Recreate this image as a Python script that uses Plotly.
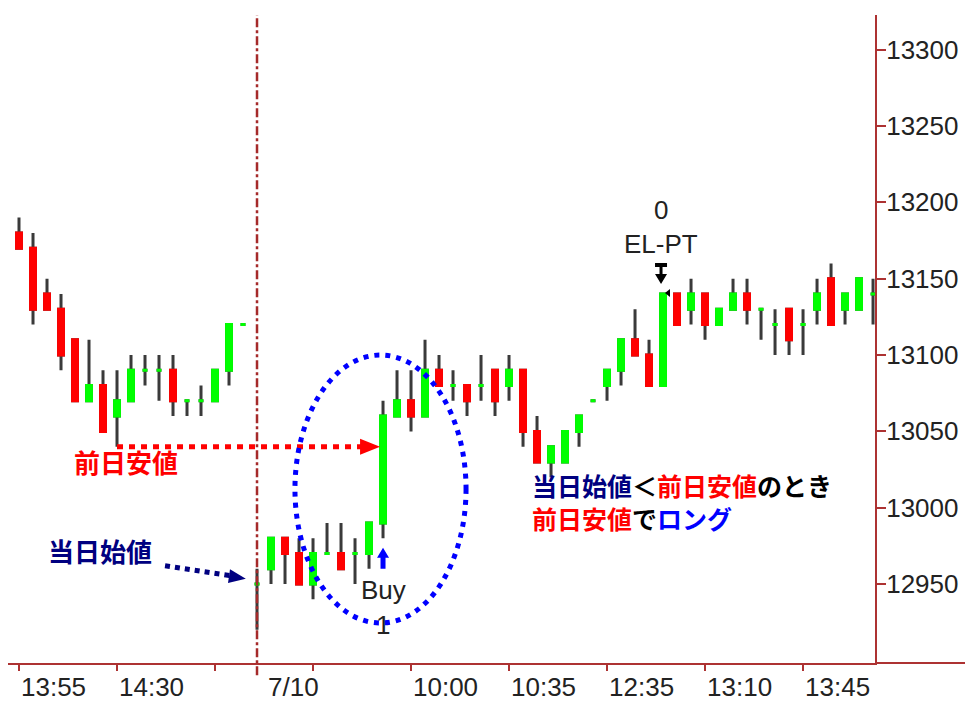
import plotly.graph_objects as go

# 5-minute bars: afternoon of the previous day, then 7/10
bar_index = list(range(63))
opens = [13170, 13180, 13170, 13140, 13130, 13110, 13070, 13080, 13060, 13070,
         13090, 13090, 13090, 13070, 13070, 13070, 13090, 13120,
         12950, 12960, 12980, 12970, 12950, 12970, 12970, 12970, 12970, 12990,
         13060, 13070, 13060, 13090, 13080, 13080, 13080, 13090, 13080, 13090,
         13050, 13030, 13030, 13050, 13070, 13080, 13090, 13110, 13100, 13080,
         13140, 13130, 13140, 13120, 13130, 13140, 13130, 13120, 13130, 13120,
         13130, 13150, 13130, 13130, 13140]
highs = [13170, 13190, 13180, 13150, 13140, 13110, 13110, 13090, 13090, 13100,
         13100, 13100, 13100, 13070, 13080, 13090, 13120, 13120,
         12960, 12980, 12980, 12980, 12980, 12990, 12990, 12980, 12990, 13070,
         13090, 13090, 13110, 13100, 13090, 13080, 13100, 13090, 13100, 13090,
         13060, 13040, 13050, 13060, 13070, 13090, 13110, 13130, 13110, 13140,
         13140, 13150, 13140, 13130, 13150, 13150, 13130, 13130, 13130, 13130,
         13150, 13160, 13140, 13150, 13150]
lows = [13170, 13170, 13120, 13130, 13090, 13070, 13070, 13050, 13040, 13070,
        13080, 13070, 13060, 13060, 13060, 13070, 13080, 13120,
        12920, 12950, 12950, 12950, 12940, 12970, 12960, 12950, 12960, 12980,
        13060, 13050, 13060, 13080, 13070, 13060, 13070, 13060, 13070, 13040,
        13030, 13020, 13030, 13040, 13070, 13070, 13080, 13100, 13080, 13080,
        13120, 13120, 13110, 13120, 13130, 13120, 13110, 13100, 13100, 13100,
        13120, 13120, 13120, 13130, 13120]
closes = [13170, 13170, 13130, 13130, 13100, 13070, 13080, 13050, 13070, 13090,
          13090, 13090, 13070, 13070, 13070, 13090, 13120, 13120,
          12950, 12980, 12970, 12950, 12970, 12970, 12960, 12970, 12990, 13060,
          13070, 13060, 13090, 13080, 13080, 13070, 13080, 13070, 13090, 13050,
          13030, 13040, 13050, 13060, 13070, 13090, 13110, 13100, 13080, 13140,
          13120, 13140, 13120, 13130, 13140, 13130, 13130, 13120, 13110, 13120,
          13140, 13120, 13140, 13150, 13140]

tick_index = [1, 8, 15, 22, 29, 36, 43, 50, 57]
tick_text = ["13:55", "14:30", "", "", "10:00", "10:35", "12:35", "13:10", "13:45"]
price_ticks = [12950, 13000, 13050, 13100, 13150, 13200, 13250, 13300]

day_break = 18        # first bar of 7/10
prev_day_low = 13040  # 前日安値
entry_bar = 27
exit_bar = 47

GREEN = "#00ff00"
RED = "#ff0000"
WICK = "#3a3a3a"
AXIS = "#ad3232"
TXT = "#222222"
TICK_FONT = dict(family="Liberation Sans, Arial", size=26, color=TXT)
JP = "Noto Sans CJK JP"

fig = go.Figure()

# wicks (full range, dark)
fig.add_trace(go.Candlestick(
    x=bar_index, open=opens, high=highs, low=lows, close=closes,
    increasing=dict(line=dict(color=WICK, width=3), fillcolor=WICK),
    decreasing=dict(line=dict(color=WICK, width=3), fillcolor=WICK),
    hoverinfo="skip", showlegend=False))

# bodies drawn on top, one trace per colour
for color, pick in [(GREEN, lambda o, c: c >= o), (RED, lambda o, c: c < o)]:
    sel = [i for i in bar_index if pick(opens[i], closes[i])]
    fig.add_trace(go.Candlestick(
        x=sel,
        open=[opens[i] for i in sel],
        close=[closes[i] for i in sel],
        high=[max(opens[i], closes[i]) for i in sel],
        low=[min(opens[i], closes[i]) for i in sel],
        increasing=dict(line=dict(color=color, width=3), fillcolor=color),
        decreasing=dict(line=dict(color=color, width=3), fillcolor=color),
        hoverinfo="skip", showlegend=False))

shapes = [
    # x axis line continues under the price scale
    dict(type="line", xref="paper", yref="paper", x0=1, x1=1.2, y0=0, y1=0,
         line=dict(color=AXIS, width=2)),
    # day break
    dict(type="line", xref="x", yref="paper", x0=day_break, x1=day_break,
         y0=-0.019, y1=1, line=dict(color="#a52a2a", width=2.5, dash="dashdot")),
    # previous day low -> entry
    dict(type="line", xref="x", yref="y", x0=8, x1=26.1,
         y0=prev_day_low, y1=prev_day_low,
         line=dict(color=RED, width=5, dash="6px,6px")),
    dict(type="path", xref="x", yref="y", xsizemode="pixel", ysizemode="pixel",
         xanchor=26.79, yanchor=prev_day_low, path="M0,0 L-20,8 L-20,-8 Z",
         fillcolor=RED, line=dict(width=0)),
    # today's open pointer
    dict(type="line", xref="x", yref="y", x0=11.43, x1=16.5, y0=12962, y1=12955,
         line=dict(color="#000080", width=5, dash="5px,5px")),
    dict(type="path", xref="x", yref="y", xsizemode="pixel", ysizemode="pixel",
         xanchor=17.2, yanchor=12953.5, path="M0,0 L-15.8,9.4 L-17.8,-4.4 Z",
         fillcolor="#000080", line=dict(width=0)),
    # ellipse around entry
    dict(type="circle", xref="x", yref="y", x0=20.71, x1=32.93,
         y0=12924.5, y1=13100, line=dict(color="#0000ff", width=5, dash="5px,6px")),
    # buy arrow
    dict(type="path", xref="x", yref="y", xsizemode="pixel", ysizemode="pixel",
         xanchor=entry_bar, yanchor=12960,
         path="M-2.5,0 V11 H-6 L0,21 L6,11 H2.5 V0 Z",
         fillcolor="#0000ff", line=dict(width=0)),
    # exit arrow
    dict(type="path", xref="x", yref="y", xsizemode="pixel", ysizemode="pixel",
         xanchor=exit_bar, yanchor=13140,
         path="M-2,10 L-8,20 L-3.5,20 L-3.5,27 L-8,27 L-8,31 L4,31 L4,27 "
              "L-0.5,27 L-0.5,20 L4,20 Z",
         fillcolor="black", line=dict(width=0)),
    dict(type="path", xref="x", yref="y", xsizemode="pixel", ysizemode="pixel",
         xanchor=exit_bar, yanchor=13140, path="M2,1 L7,5 L7,-3 Z",
         fillcolor="black", line=dict(width=0)),
]

annotations = [
    dict(x=day_break, y=-0.037, xref="x", yref="paper", text="7/10",
         xanchor="left", yanchor="middle", xshift=9, showarrow=False, font=TICK_FONT),
    dict(x=entry_bar, y=12946, text="Buy", showarrow=False, font=TICK_FONT),
    dict(x=entry_bar, y=12923, text="1", showarrow=False, font=TICK_FONT),
    dict(x=exit_bar, y=13195, text="0", xshift=-2, showarrow=False, font=TICK_FONT),
    dict(x=exit_bar, y=13173, text="EL-PT", xshift=-2, showarrow=False, font=TICK_FONT),
    dict(x=8.64, y=13030, text="<b>前日安値</b>", showarrow=False,
         font=dict(family=JP, size=26, color=RED)),
    dict(x=6.79, y=12972.3, text="<b>当日始値</b>", showarrow=False,
         font=dict(family=JP, size=26, color="#000080")),
    dict(x=37.5, y=13014.9, xanchor="left", yanchor="middle", showarrow=False,
         font=dict(family=JP, size=25, color="black"),
         text="<b><span style='color:#000080'>当日始値</span>＜"
              "<span style='color:#ff0000'>前日安値</span>のとき</b>"),
    dict(x=37.5, y=12993.3, xanchor="left", yanchor="middle", showarrow=False,
         font=dict(family=JP, size=25, color="black"),
         text="<b><span style='color:#ff0000'>前日安値</span>で"
              "<span style='color:#0000ff'>ロング</span></b>"),
]

# the page puts the chart 8px in from the top-left corner
fig.update_layout(
    width=965, height=694,
    margin=dict(l=0, r=98, t=7, b=39),
    paper_bgcolor="white", plot_bgcolor="white",
    showlegend=False,
    boxgap=0.5,
    shapes=shapes,
    annotations=annotations,
    xaxis=dict(
        range=[0.214, 62.14], rangeslider=dict(visible=False),
        automargin=False,
        showgrid=False, zeroline=False,
        showline=True, linecolor=AXIS, linewidth=2,
        ticks="outside", ticklen=6, tickwidth=2, tickcolor=AXIS,
        tickvals=tick_index, ticktext=tick_text,
        ticklabelposition="outside right", tickfont=TICK_FONT,
    ),
    yaxis=dict(
        side="right", range=[12898.3, 13322.7], automargin=False,
        showgrid=False, zeroline=False,
        showline=True, linecolor=AXIS, linewidth=2,
        ticks="outside", ticklen=9, tickwidth=2, tickcolor=AXIS,
        tickvals=price_ticks, ticktext=[str(p) for p in price_ticks],
        ticklabelstandoff=-5, tickfont=TICK_FONT,
    ),
)

fig.write_html("out.html")
